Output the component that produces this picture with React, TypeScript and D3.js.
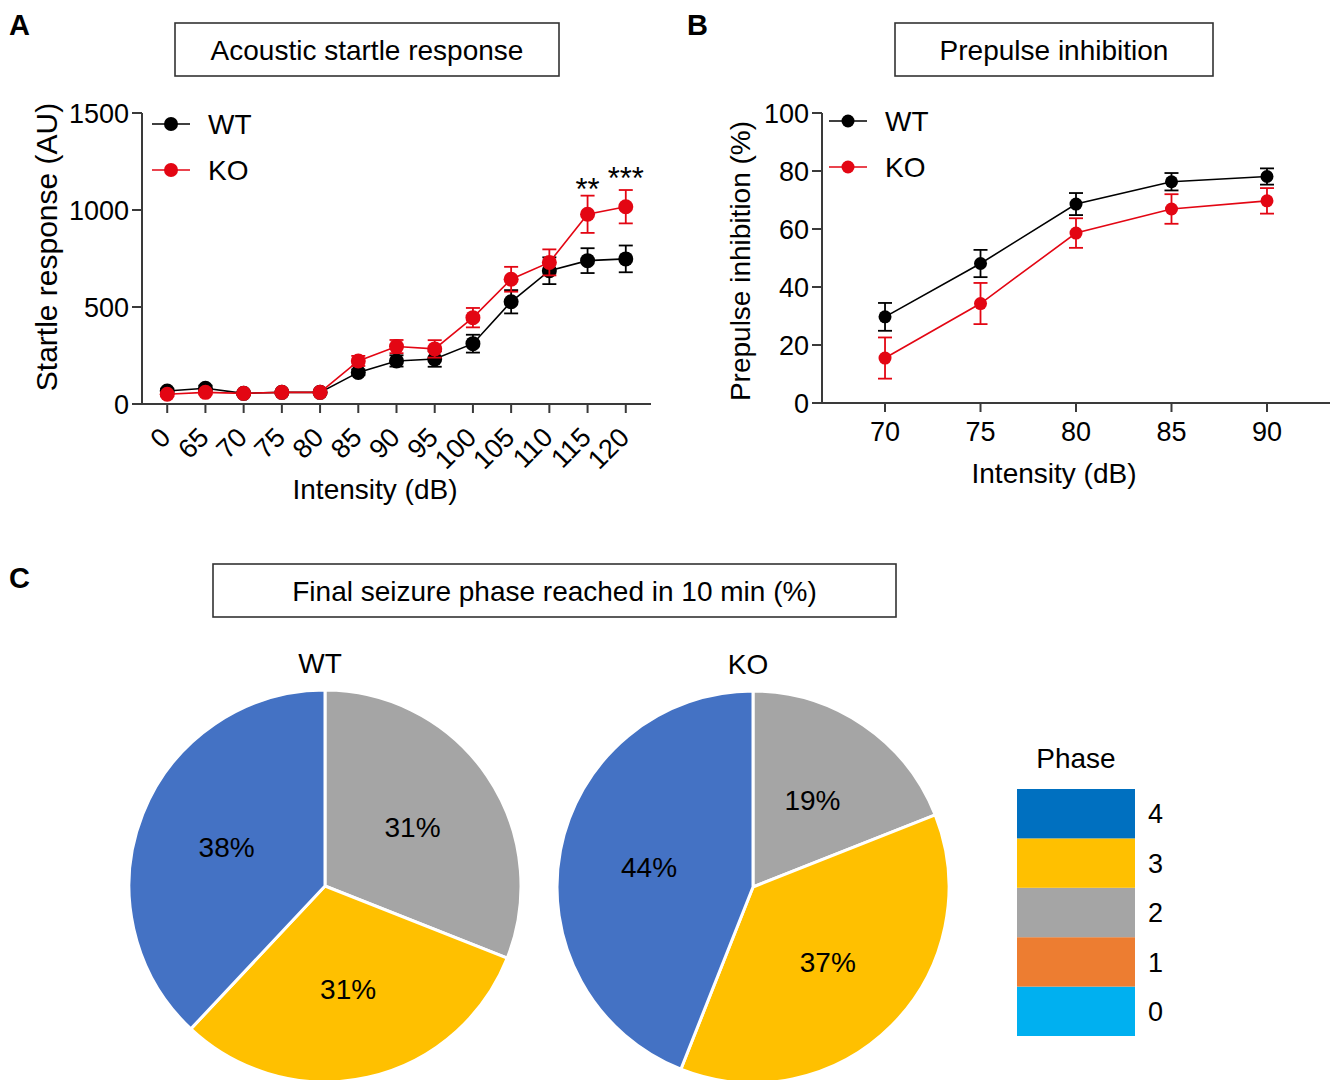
import React from 'react';
import { scaleLinear, scalePoint, line, pie, arc } from 'd3';

// panel A: acoustic startle response
const startleDb = ['0', '65', '70', '75', '80', '85', '90', '95', '100', '105', '110', '115', '120'];
const startleWT = [67, 81, 55, 60, 60, 163, 222, 232, 311, 527, 687, 739, 748];
const startleWTerr = [12, 14, 8, 8, 8, 15, 29, 40, 46, 60, 69, 64, 69];
const startleKO = [50, 60, 55, 60, 60, 222, 296, 284, 445, 643, 730, 978, 1017];
const startleKOerr = [10, 10, 8, 8, 8, 26, 34, 45, 50, 64, 67, 96, 86];
const startleTicks = [0, 500, 1000, 1500];
const stars = [{ db: '115', label: '**' }, { db: '120', label: '***' }];

// panel B: prepulse inhibition
const ppiDb = ['70', '75', '80', '85', '90'];
const ppiWT = [29.7, 48.1, 68.6, 76.3, 78.1];
const ppiWTerr = [4.8, 4.7, 3.8, 3.0, 2.8];
const ppiKO = [15.5, 34.3, 58.6, 66.9, 69.7];
const ppiKOerr = [7.1, 7.1, 5.1, 5.1, 4.4];
const ppiTicks = [0, 20, 40, 60, 80, 100];

// panel C: seizure phases
const phases = [0, 1, 2, 3, 4];
const seizureWT = [0, 0, 31, 31, 38];
const seizureKO = [0, 0, 19, 37, 44];
const pieColors = ['#00B0F0', '#ED7D31', '#A5A5A5', '#FFC000', '#4472C4'];
const legendColors = ['#00B0F0', '#ED7D31', '#A5A5A5', '#FFC000', '#0070C0'];

const FONT = 'Liberation Sans, Arial, Helvetica, sans-serif';
const AX = '#3a3a3a';

function LinePanel({ cats, wt, wtErr, ko, koErr, ticks, yMax, x0, x1, yTop, yBot, r, cap, rotate }) {
  const x = scalePoint().domain(cats).range([x0, x1]).padding(0.66);
  const y = scaleLinear().domain([0, yMax]).range([yBot, yTop]);
  const path = line().x((d, i) => x(cats[i])).y((d) => y(d));
  const series = [
    { v: wt, e: wtErr, c: '#000000' },
    { v: ko, e: koErr, c: '#E30613' },
  ];
  return (
    <g>
      <line x1={x0} x2={x0} y1={yTop} y2={yBot} stroke={AX} strokeWidth={2} />
      <line x1={x0} x2={x1} y1={yBot} y2={yBot} stroke={AX} strokeWidth={2} />
      {ticks.map((t) => (
        <g key={t}>
          <line x1={x0 - 10} x2={x0} y1={y(t)} y2={y(t)} stroke={AX} strokeWidth={2} />
          <text x={x0 - 13} y={y(t)} dy="0.36em" textAnchor="end" fontSize={27}>{t}</text>
        </g>
      ))}
      {cats.map((c) => (
        <g key={c}>
          <line x1={x(c)} x2={x(c)} y1={yBot} y2={yBot + 9} stroke={AX} strokeWidth={2} />
          {rotate ? (
            <text transform={`translate(${x(c) + 5},${yBot + 35}) rotate(-45)`} textAnchor="end" fontSize={27}>{c}</text>
          ) : (
            <text x={x(c)} y={yBot + 38} textAnchor="middle" fontSize={27}>{c}</text>
          )}
        </g>
      ))}
      {series.map((s, si) => (
        <g key={si}>
          <path d={path(s.v)} fill="none" stroke={s.c} strokeWidth={1.6} />
          {s.v.map((v, i) => (
            <g key={i} stroke={s.c} strokeWidth={1.8}>
              <line x1={x(cats[i])} x2={x(cats[i])} y1={y(v - s.e[i])} y2={y(v + s.e[i])} />
              <line x1={x(cats[i]) - cap} x2={x(cats[i]) + cap} y1={y(v + s.e[i])} y2={y(v + s.e[i])} />
              <line x1={x(cats[i]) - cap} x2={x(cats[i]) + cap} y1={y(v - s.e[i])} y2={y(v - s.e[i])} />
            </g>
          ))}
          {s.v.map((v, i) => (
            <circle key={'c' + i} cx={x(cats[i])} cy={y(v)} r={r} fill={s.c} />
          ))}
        </g>
      ))}
    </g>
  );
}

function Legend({ x, y, gap, r }) {
  const items = [{ n: 'WT', c: '#000000' }, { n: 'KO', c: '#E30613' }];
  return (
    <g>
      {items.map((it, i) => (
        <g key={it.n} transform={`translate(${x},${y + i * gap})`}>
          <line x1={0} x2={38} y1={0} y2={0} stroke={it.c} strokeWidth={1.6} />
          <circle cx={19} cy={0} r={r} fill={it.c} />
          <text x={56} y={0} dy="0.36em" fontSize={28}>{it.n}</text>
        </g>
      ))}
    </g>
  );
}

function TitleBox({ x, y, w, h, label }) {
  return (
    <g>
      <rect x={x} y={y} width={w} height={h} fill="white" stroke="#333" strokeWidth={1.6} />
      <text x={x + w / 2} y={y + h / 2} dy="0.36em" textAnchor="middle" fontSize={28}>{label}</text>
    </g>
  );
}

function Pie({ cx, cy, values, title }) {
  const r = 196;
  const arcs = pie().sort(null).value((d) => d)(values);
  const slice = arc().innerRadius(0).outerRadius(r);
  const labelArc = arc().innerRadius(r * 0.54).outerRadius(r * 0.54);
  return (
    <g transform={`translate(${cx},${cy})`}>
      <text x={-5} y={-223} dy="0.36em" textAnchor="middle" fontSize={28}>{title}</text>
      {arcs.map((a, i) =>
        a.value > 0 ? (
          <path key={i} d={slice(a)} fill={pieColors[i]} stroke="white" strokeWidth={3} />
        ) : null
      )}
      {arcs.map((a, i) => {
        if (a.value <= 0) return null;
        const [lx, ly] = labelArc.centroid(a);
        return (
          <text key={'t' + i} x={lx} y={ly} dy="0.36em" textAnchor="middle" fontSize={28}>{a.value}%</text>
        );
      })}
    </g>
  );
}

export default function App() {
  const legendY = scalePoint().domain(phases.slice().reverse().map(String)).range([789, 1036]).padding(0.5);
  const boxH = 49.4;
  const starX = scalePoint().domain(startleDb).range([142, 651]).padding(0.66);
  return (
    <svg width={1336} height={1080} style={{ position: 'absolute', left: 0, top: 0, background: 'white' }} fontFamily={FONT}>
      <rect width={1336} height={1080} fill="white" />
      <text x={9} y={35} fontSize={29} fontWeight="bold">A</text>
      <text x={687} y={35} fontSize={29} fontWeight="bold">B</text>
      <text x={9} y={588} fontSize={29} fontWeight="bold">C</text>

      <TitleBox x={175} y={23} w={384} h={53} label="Acoustic startle response" />
      <TitleBox x={895} y={23} w={318} h={53} label="Prepulse inhibition" />
      <TitleBox x={213} y={564} w={683} h={53} label="Final seizure phase reached in 10 min (%)" />

      <LinePanel cats={startleDb} wt={startleWT} wtErr={startleWTerr} ko={startleKO} koErr={startleKOerr}
        ticks={startleTicks} yMax={1500} x0={142} x1={651} yTop={113} yBot={404} r={7.5} cap={7} rotate />
      <Legend x={152} y={124} gap={46} r={7} />
      {stars.map((s) => (
        <text key={s.db} x={starX(s.db)} y={s.label.length === 2 ? 200 : 189}
          textAnchor="middle" fontSize={31}>{s.label}</text>
      ))}
      <text transform="translate(46,247) rotate(-90)" dy="0.36em" textAnchor="middle" fontSize={30}>Startle response (AU)</text>
      <text x={375} y={489} dy="0.36em" textAnchor="middle" fontSize={28}>Intensity (dB)</text>

      <LinePanel cats={ppiDb} wt={ppiWT} wtErr={ppiWTerr} ko={ppiKO} koErr={ppiKOerr}
        ticks={ppiTicks} yMax={100} x0={822} x1={1330} yTop={113} yBot={403} r={6.5} cap={7} rotate={false} />
      <Legend x={829} y={121} gap={46} r={6.5} />
      <text transform="translate(740,261) rotate(-90)" dy="0.36em" textAnchor="middle" fontSize={28}>Prepulse inhibition (%)</text>
      <text x={1054} y={473} dy="0.36em" textAnchor="middle" fontSize={28}>Intensity (dB)</text>

      <Pie cx={325} cy={886} values={seizureWT} title="WT" />
      <Pie cx={753} cy={887} values={seizureKO} title="KO" />

      <text x={1076} y={758} dy="0.36em" textAnchor="middle" fontSize={28}>Phase</text>
      {phases.map((p) => (
        <g key={p}>
          <rect x={1017} y={legendY(String(p)) - boxH / 2} width={118} height={boxH} fill={legendColors[p]} />
          <text x={1148} y={legendY(String(p))} dy="0.36em" fontSize={27}>{p}</text>
        </g>
      ))}
    </svg>
  );
}
